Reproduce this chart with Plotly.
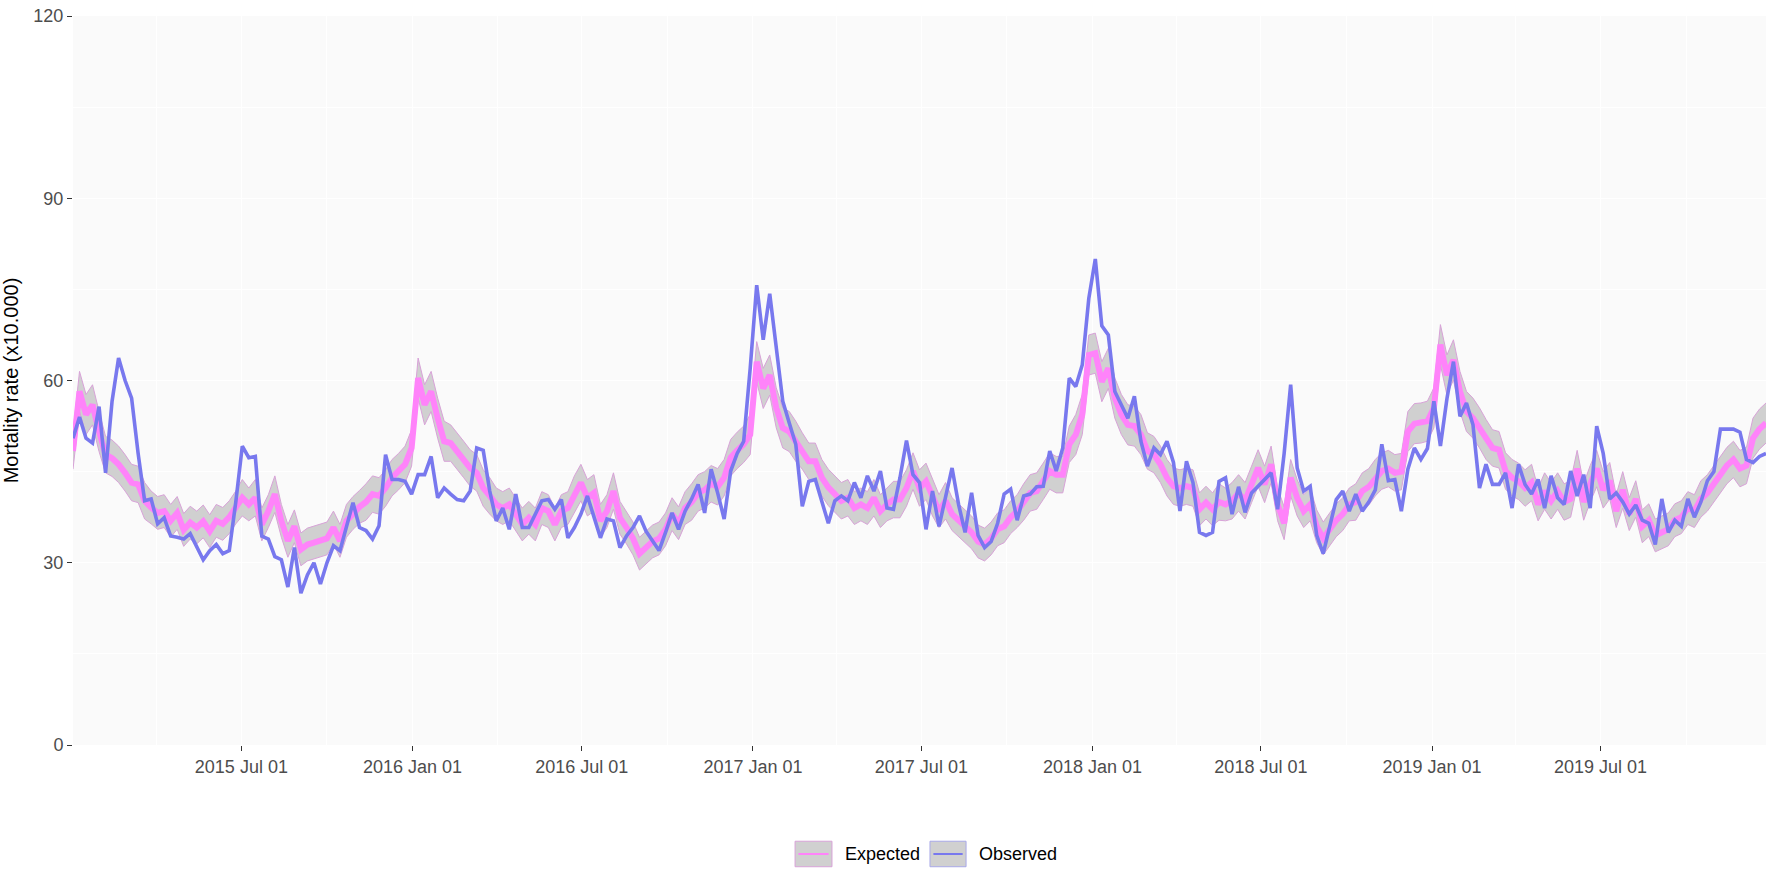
import plotly.graph_objs as go
import pandas as pd

# weekly series, 2015 - 2019
weeks = pd.date_range("2015-01-01", periods=261, freq="7D")

expected = [
    48.4, 58.2, 54.4, 56.0, 51.6, 47.8, 47.2, 46.2, 44.8, 43.2,
    42.9, 40.2, 39.1, 38.2, 38.5, 36.9, 38.2, 35.4, 36.6, 35.8,
    36.8, 35.2, 36.9, 36.4, 37.5, 39.1, 40.7, 39.6, 40.7, 36.3,
    38.5, 41.3, 36.9, 33.6, 36.0, 32.2, 33.0, 33.3, 33.6, 34.0,
    35.8, 33.6, 36.9, 38.2, 39.2, 40.0, 41.3, 41.0, 42.3, 44.0,
    45.0, 46.2, 48.9, 60.4, 56.0, 58.2, 53.8, 50.0, 49.7, 48.4,
    47.0, 45.6, 44.8, 42.3, 41.0, 39.6, 39.0, 39.6, 38.0, 36.3,
    37.4, 36.3, 39.0, 38.5, 36.3, 38.5, 39.0, 41.3, 43.2, 40.7,
    41.5, 36.9, 38.5, 41.8, 37.4, 35.8, 34.0, 31.5, 32.5, 33.5,
    34.0, 35.5, 38.0, 36.5, 39.0, 40.0, 41.5, 42.0, 43.0, 42.5,
    44.0, 47.3, 48.5, 49.5, 51.1, 63.1, 58.7, 60.9, 55.5, 52.2,
    51.6, 50.0, 48.4, 46.7, 46.7, 44.0, 42.4, 41.3, 40.2, 40.7,
    39.0, 39.6, 39.0, 40.7, 38.5, 39.6, 40.4, 40.4, 42.3, 45.1,
    42.3, 43.4, 40.7, 38.5, 40.2, 38.0, 37.0, 36.0, 35.0, 33.5,
    33.0, 34.0, 35.5, 36.0, 37.5, 38.5, 40.0, 41.5, 41.8, 43.4,
    45.1, 44.5, 44.5, 49.5, 51.1, 54.4, 64.2, 64.5, 59.8, 62.0,
    57.1, 54.4, 52.7, 52.5, 51.1, 48.4, 47.8, 46.2, 44.0, 42.6,
    42.3, 42.6, 42.3, 38.8, 39.9, 38.8, 40.0, 39.6, 40.2, 41.5,
    40.2, 42.9, 45.6, 42.9, 46.2, 39.6, 36.5, 44.0, 40.7, 38.5,
    39.6, 36.0, 34.0, 35.5, 37.0, 38.0, 39.6, 40.0, 41.8, 42.5,
    44.0, 45.1, 45.5, 44.8, 45.0, 51.6, 52.9, 53.0, 53.3, 55.5,
    65.9, 60.9, 63.4, 58.2, 54.9, 53.8, 52.2, 50.3, 48.9, 48.6,
    45.1, 44.0, 43.4, 42.3, 43.2, 39.6, 41.8, 40.2, 41.8, 40.0,
    40.5, 45.5, 40.0, 43.0, 45.5, 42.0, 43.5, 38.5, 42.0, 38.0,
    40.5, 36.0, 37.0, 34.5, 35.0, 35.5, 37.0, 37.5, 39.0, 38.5,
    40.5, 41.5, 43.0, 44.5, 46.0, 47.0, 45.5, 46.0, 50.5, 52.0,
    53.0,
]

expected_lo = [
    45.4, 54.9, 51.1, 52.7, 48.3, 44.8, 44.2, 43.2, 41.8, 40.2,
    39.9, 37.2, 36.4, 35.5, 35.8, 34.2, 35.5, 32.7, 33.9, 33.1,
    34.1, 32.5, 34.2, 33.7, 34.8, 36.4, 37.7, 36.9, 37.7, 33.6,
    35.8, 38.3, 34.2, 30.9, 33.3, 29.5, 30.3, 30.6, 30.9, 31.3,
    33.1, 30.9, 34.2, 35.5, 36.5, 37.0, 38.3, 38.0, 39.3, 41.0,
    42.0, 43.2, 45.9, 57.1, 52.7, 54.9, 50.5, 46.7, 46.7, 45.4,
    44.0, 42.6, 41.8, 39.3, 38.0, 36.9, 36.3, 36.9, 35.3, 33.6,
    34.7, 33.6, 36.3, 35.8, 33.6, 35.8, 36.3, 38.3, 40.2, 37.7,
    38.5, 34.2, 35.8, 38.8, 34.7, 33.1, 31.3, 28.8, 29.8, 30.8,
    31.3, 32.8, 35.3, 33.8, 36.3, 37.0, 38.5, 39.0, 40.0, 39.5,
    41.0, 44.3, 45.5, 46.5, 47.8, 59.8, 55.4, 57.6, 52.2, 48.9,
    48.3, 46.7, 45.4, 43.7, 43.7, 41.0, 39.4, 38.3, 37.2, 37.7,
    36.3, 36.9, 36.3, 37.7, 35.8, 36.9, 37.4, 37.4, 39.3, 42.1,
    39.3, 40.4, 37.7, 35.8, 37.2, 35.3, 34.3, 33.3, 32.3, 30.8,
    30.3, 31.3, 32.8, 33.3, 34.8, 35.8, 37.0, 38.5, 38.8, 40.4,
    42.1, 41.5, 41.5, 46.5, 47.8, 51.1, 60.9, 61.2, 56.5, 58.7,
    53.8, 51.1, 49.4, 49.2, 47.8, 45.4, 44.8, 43.2, 41.0, 39.6,
    39.3, 39.6, 39.3, 36.1, 37.2, 36.1, 37.0, 36.9, 37.2, 38.5,
    37.2, 39.9, 42.6, 39.9, 43.2, 36.9, 33.8, 41.0, 37.7, 35.8,
    36.9, 33.3, 31.3, 32.8, 34.3, 35.3, 36.9, 37.0, 38.8, 39.5,
    41.0, 42.1, 42.5, 41.8, 42.0, 48.3, 49.6, 49.7, 50.0, 52.2,
    62.6, 57.6, 60.1, 54.9, 51.6, 50.5, 48.9, 47.0, 45.9, 45.6,
    42.1, 41.0, 40.4, 39.3, 40.2, 36.9, 38.8, 37.2, 38.8, 37.0,
    37.5, 42.5, 37.0, 40.0, 42.5, 39.0, 40.5, 35.8, 39.0, 35.3,
    37.5, 33.3, 34.3, 31.8, 32.3, 32.8, 34.3, 34.8, 36.3, 35.8,
    37.5, 38.5, 40.0, 41.5, 43.0, 44.0, 42.5, 43.0, 47.2, 48.7,
    49.7,
]

expected_hi = [
    51.4, 61.5, 57.7, 59.3, 54.9, 50.8, 50.2, 49.2, 47.8, 46.2,
    45.9, 43.2, 41.8, 40.9, 41.2, 39.6, 40.9, 38.1, 39.3, 38.5,
    39.5, 37.9, 39.6, 39.1, 40.2, 41.8, 43.7, 42.3, 43.7, 39.0,
    41.2, 44.3, 39.6, 36.3, 38.7, 34.9, 35.7, 36.0, 36.3, 36.7,
    38.5, 36.3, 39.6, 40.9, 41.9, 43.0, 44.3, 44.0, 45.3, 47.0,
    48.0, 49.2, 51.9, 63.7, 59.3, 61.5, 57.1, 53.3, 52.7, 51.4,
    50.0, 48.6, 47.8, 45.3, 44.0, 42.3, 41.7, 42.3, 40.7, 39.0,
    40.1, 39.0, 41.7, 41.2, 39.0, 41.2, 41.7, 44.3, 46.2, 43.7,
    44.5, 39.6, 41.2, 44.8, 40.1, 38.5, 36.7, 34.2, 35.2, 36.2,
    36.7, 38.2, 40.7, 39.2, 41.7, 43.0, 44.5, 45.0, 46.0, 45.5,
    47.0, 50.3, 51.5, 52.5, 54.4, 66.4, 62.0, 64.2, 58.8, 55.5,
    54.9, 53.3, 51.4, 49.7, 49.7, 47.0, 45.4, 44.3, 43.2, 43.7,
    41.7, 42.3, 41.7, 43.7, 41.2, 42.3, 43.4, 43.4, 45.3, 48.1,
    45.3, 46.4, 43.7, 41.2, 43.2, 40.7, 39.7, 38.7, 37.7, 36.2,
    35.7, 36.7, 38.2, 38.7, 40.2, 41.2, 43.0, 44.5, 44.8, 46.4,
    48.1, 47.5, 47.5, 52.5, 54.4, 57.7, 67.5, 67.8, 63.1, 65.3,
    60.4, 57.7, 56.0, 55.8, 54.4, 51.4, 50.8, 49.2, 47.0, 45.6,
    45.3, 45.6, 45.3, 41.5, 42.6, 41.5, 43.0, 42.3, 43.2, 44.5,
    43.2, 45.9, 48.6, 45.9, 49.2, 42.3, 39.2, 47.0, 43.7, 41.2,
    42.3, 38.7, 36.7, 38.2, 39.7, 40.7, 42.3, 43.0, 44.8, 45.5,
    47.0, 48.1, 48.5, 47.8, 48.0, 54.9, 56.2, 56.3, 56.6, 58.8,
    69.2, 64.2, 66.7, 61.5, 58.2, 57.1, 55.5, 53.6, 51.9, 51.6,
    48.1, 47.0, 46.4, 45.3, 46.2, 42.3, 44.8, 43.2, 44.8, 43.0,
    43.5, 48.5, 43.0, 46.0, 48.5, 45.0, 46.5, 41.2, 45.0, 40.7,
    43.5, 38.7, 39.7, 37.2, 37.7, 38.2, 39.7, 40.2, 41.7, 41.2,
    43.5, 44.5, 46.0, 47.5, 49.0, 50.0, 48.5, 49.0, 53.8, 55.3,
    56.3,
]

observed = [
    50.5, 54.0, 50.5, 49.7, 55.7, 44.8, 56.6, 63.7, 60.0, 57.1,
    48.0, 40.2, 40.5, 36.4, 37.4, 34.4, 34.2, 33.9, 34.8, 32.5,
    30.5, 32.0, 33.0, 31.5, 32.0, 40.0, 49.2, 47.3, 47.5, 34.4,
    33.9, 31.0, 30.5, 26.0, 32.5, 25.0, 28.0, 30.0, 26.5, 30.0,
    32.8, 32.0, 36.0, 39.9, 35.8, 35.3, 33.9, 36.1, 47.8, 43.7,
    43.7, 43.4, 41.3, 44.5, 44.5, 47.5, 40.7, 42.3, 41.3, 40.4,
    40.2, 41.8, 48.9, 48.5, 41.8, 36.9, 39.0, 35.5, 41.3, 35.8,
    35.8, 38.0, 40.2, 40.4, 38.8, 40.4, 34.1, 35.8, 38.0, 41.0,
    37.4, 34.1, 37.2, 36.9, 32.5, 34.4, 35.8, 37.7, 35.2, 33.5,
    32.0, 35.0, 38.2, 35.5, 38.5, 40.5, 42.9, 38.2, 45.4, 41.5,
    37.2, 45.1, 48.0, 50.0, 62.0, 75.7, 66.7, 74.3, 65.0, 56.6,
    53.0, 49.5, 39.3, 43.4, 43.7, 40.0, 36.5, 40.2, 41.0, 40.2,
    43.2, 40.7, 44.3, 41.8, 45.1, 39.0, 38.8, 44.0, 50.1, 44.5,
    43.2, 35.5, 41.8, 36.0, 41.0, 45.6, 39.6, 35.0, 41.5, 34.5,
    32.5, 33.5, 36.5, 41.3, 42.1, 37.0, 41.0, 41.3, 42.5, 42.6,
    48.4, 45.1, 48.9, 60.4, 59.0, 62.6, 73.5, 80.0, 69.0, 67.5,
    58.2, 56.0, 53.8, 57.4, 50.0, 45.9, 48.9, 47.8, 50.0, 46.5,
    38.5, 46.7, 43.2, 35.0, 34.5, 35.0, 43.4, 44.0, 38.0, 42.5,
    38.3, 41.5, 42.6, 43.7, 44.8, 38.8, 48.0, 59.3, 45.6, 41.8,
    42.6, 34.5, 31.5, 36.0, 40.4, 41.8, 38.5, 41.3, 38.5, 40.0,
    42.0, 49.5, 43.5, 43.7, 38.5, 45.4, 48.9, 47.0, 48.8, 56.6,
    49.2, 57.0, 63.1, 54.1, 56.3, 52.7, 42.3, 46.2, 42.9, 42.9,
    44.8, 39.0, 46.2, 42.9, 41.3, 43.7, 39.0, 44.3, 40.7, 39.6,
    45.1, 41.0, 44.5, 39.0, 52.5, 48.0, 40.5, 41.5, 40.0, 38.0,
    39.5, 37.0, 36.5, 33.0, 40.5, 35.0, 37.0, 36.0, 40.5, 37.5,
    40.0, 43.5, 45.0, 52.0, 52.0, 52.0, 51.5, 47.0, 46.5, 47.5,
    48.0,
]

x_ticks = ["2015-07-01", "2016-01-01", "2016-07-01", "2017-01-01",
           "2017-07-01", "2018-01-01", "2018-07-01", "2019-01-01",
           "2019-07-01"]
x_labels = ["2015 Jul 01", "2016 Jan 01", "2016 Jul 01", "2017 Jan 01",
            "2017 Jul 01", "2018 Jan 01", "2018 Jul 01", "2019 Jan 01",
            "2019 Jul 01"]
x_minor = ["2015-04-01", "2015-10-01", "2016-04-01", "2016-10-01",
           "2017-04-01", "2017-10-01", "2018-04-01", "2018-10-01",
           "2019-04-01", "2019-10-01"]

pink = "#FF83FA"
blue = "#7878EE"
band_edge = "#D8A2D8"
band_fill = "#D0D0D0"

lower = go.Scatter(x=weeks, y=expected_lo, mode="lines",
                   line=dict(color=band_edge, width=1), showlegend=False,
                   hoverinfo="skip")
upper = go.Scatter(x=weeks, y=expected_hi, mode="lines", fill="tonexty",
                   fillcolor=band_fill, line=dict(color=band_edge, width=1),
                   showlegend=False, hoverinfo="skip")
trace_exp = go.Scatter(x=weeks, y=expected, mode="lines", name="Expected",
                       line=dict(color=pink, width=6), showlegend=False)
trace_obs = go.Scatter(x=weeks, y=observed, mode="lines", name="Observed",
                       line=dict(color=blue, width=3.6), showlegend=False)

font_txt = "Liberation Sans, Arial, sans-serif"

layout = go.Layout(
    width=1772, height=877,
    margin=dict(l=73, r=6, t=10, b=132),
    paper_bgcolor="white",
    plot_bgcolor="#FAFAFA",
    font=dict(family=font_txt, size=18, color="#4D4D4D"),
    xaxis=dict(
        range=[weeks[0], weeks[-1]],
        tickmode="array", tickvals=x_ticks, ticktext=x_labels,
        ticks="outside", ticklen=5, tickwidth=1.2, tickcolor="#333333",
        showgrid=True, gridcolor="white", gridwidth=1.3,
        minor=dict(tickmode="array", tickvals=x_minor, showgrid=True,
                   gridcolor="white", gridwidth=0.6, ticks=""),
        zeroline=False, showline=False,
        tickfont=dict(size=18, color="#4D4D4D"),
    ),
    yaxis=dict(
        range=[0, 120],
        tickvals=[0, 30, 60, 90, 120],
        ticks="outside", ticklen=5, tickwidth=1.2, tickcolor="#333333",
        showgrid=True, gridcolor="white", gridwidth=1.3,
        minor=dict(tickvals=[15, 45, 75, 105], showgrid=True,
                   gridcolor="white", gridwidth=0.6, ticks=""),
        zeroline=False, showline=False,
        tickfont=dict(size=18, color="#4D4D4D"),
        title=dict(text="Mortality rate (x10.000)", standoff=10,
                   font=dict(size=20, color="black")),
    ),
    showlegend=False,
)

fig = go.Figure(data=[lower, upper, trace_exp, trace_obs], layout=layout)

# legend drawn by hand (ggplot style keys: grey box + coloured line)
keys = [("Expected", pink, band_edge, 0.4265, 0.4483, 0.4548),
        ("Observed", blue, "#A8A8E8", 0.5062, 0.5275, 0.5340)]
leg_y = -0.1495
for label, col, edge, x0, x1, xt in keys:
    fig.add_shape(type="rect", xref="paper", yref="paper",
                  x0=x0, x1=x1, y0=leg_y - 0.0175, y1=leg_y + 0.0175,
                  fillcolor=band_fill, line=dict(color=edge, width=1))
    fig.add_shape(type="line", xref="paper", yref="paper",
                  x0=x0 + 0.002, x1=x1 - 0.002, y0=leg_y, y1=leg_y,
                  line=dict(color=col, width=2))
    fig.add_annotation(text=label, xref="paper", yref="paper",
                       x=xt, y=leg_y, xanchor="left", yanchor="middle",
                       showarrow=False,
                       font=dict(family=font_txt, size=18, color="black"))

# drop the default 8px page margin so the figure sits at the window corner
fig.write_html("out.html",
               config={"displayModeBar": False},
               post_script="document.body.style.margin='0px';")
